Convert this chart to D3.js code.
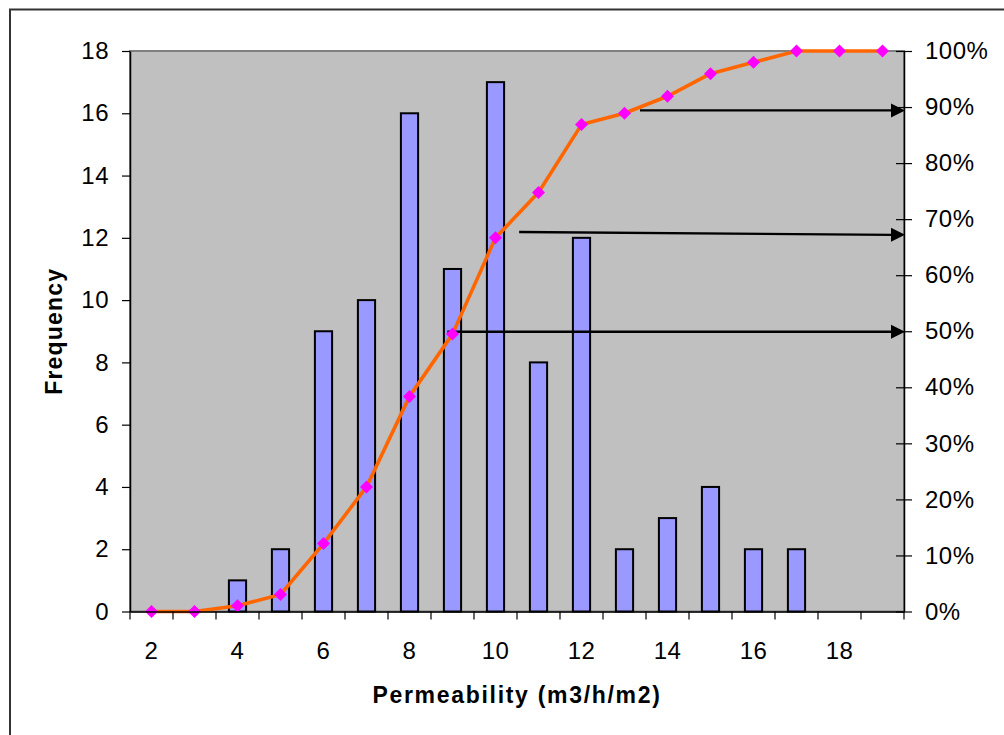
<!DOCTYPE html>
<html>
<head>
<meta charset="utf-8">
<script src="https://cdn.jsdelivr.net/npm/d3@7/dist/d3.min.js"></script>
<style>
  html, body { margin: 0; padding: 0; background: #fff; }
  svg { display: block; font-family: "Liberation Sans", Arial, sans-serif; }
</style>
</head>
<body>
<svg id="chart" width="1004" height="735"></svg>
<script>
// Permeability classes (m3/h/m2)
const categories = [2, 3, 4, 5, 6, 7, 8, 9, 10, 11, 12, 13, 14, 15, 16, 17, 18, 19];
// Number of samples in each class
const frequency = [0, 0, 1, 2, 9, 10, 16, 11, 17, 8, 12, 2, 3, 4, 2, 2, 0, 0];
// Cumulative share of samples
const cumulative = [0, 0, 0.0101, 0.0303, 0.1212, 0.2222, 0.3838, 0.4949, 0.6667, 0.7475,
                    0.8687, 0.8889, 0.9192, 0.9596, 0.9798, 1, 1, 1];
// Axis tick values
const freqTicks = [0, 2, 4, 6, 8, 10, 12, 14, 16, 18];
const pctTicks = [0, 0.1, 0.2, 0.3, 0.4, 0.5, 0.6, 0.7, 0.8, 0.9, 1];
const xLabelTicks = [2, 4, 6, 8, 10, 12, 14, 16, 18];
// Reading arrows: start class position, start share, end share
const arrowStartX = [8.88, 10.55, 13.36];
const arrowStartPct = [0.499, 0.677, 0.894];
const arrowEndPct = [0.499, 0.672, 0.894];

const svg = d3.select("#chart");
const plot = { left: 130, right: 904, top: 51, bottom: 611.5 };

const x = d3.scaleBand().domain(categories).range([plot.left, plot.right]);
const bw = x.bandwidth();
const xPos = d3.scaleLinear()
  .domain([categories[0], categories[categories.length - 1]])
  .range([x(categories[0]) + bw / 2, x(categories[categories.length - 1]) + bw / 2]);
const yL = d3.scaleLinear().domain([0, 18]).range([plot.bottom, plot.top]);
const yR = d3.scaleLinear().domain([0, 1]).range([plot.bottom, plot.top]);

// Outer chart frame
svg.append("rect")
  .attr("x", 10).attr("y", 9.5)
  .attr("width", 1100).attr("height", 900)
  .attr("fill", "none").attr("stroke", "#333").attr("stroke-width", 2);

// Plot area
svg.append("rect")
  .attr("x", plot.left).attr("y", plot.top)
  .attr("width", plot.right - plot.left).attr("height", plot.bottom - plot.top)
  .attr("fill", "#c0c0c0").attr("stroke", "#808080").attr("stroke-width", 2);

// Frequency bars
const barW = bw / 2.5;
svg.append("g").selectAll("rect")
  .data(categories.map((c, i) => ({ c, v: frequency[i] })).filter(d => d.v > 0))
  .join("rect")
  .attr("x", d => x(d.c) + (bw - barW) / 2)
  .attr("y", d => yL(d.v))
  .attr("width", barW)
  .attr("height", d => yL(0) - yL(d.v))
  .attr("fill", "#9999ff")
  .attr("stroke", "#000")
  .attr("stroke-width", 2);

// Cumulative line
const pts = categories.map((c, i) => ({ c, v: cumulative[i] }));
svg.append("path")
  .datum(pts)
  .attr("fill", "none")
  .attr("stroke", "#ff6600")
  .attr("stroke-width", 3.6)
  .attr("stroke-linejoin", "round")
  .attr("d", d3.line().x(d => x(d.c) + bw / 2).y(d => yR(d.v)));

// Reading arrows
const arrows = arrowStartX.map((sx, i) => ({ sx, sp: arrowStartPct[i], ep: arrowEndPct[i] }));
const ag = svg.append("g");
const headLen = 14, headHalf = 7;
arrows.forEach(a => {
  const x1 = xPos(a.sx), y1 = yR(a.sp);
  const x2 = plot.right + 1, y2 = yR(a.ep);
  ag.append("line")
    .attr("x1", x1).attr("y1", y1)
    .attr("x2", x2 - headLen + 2).attr("y2", y2)
    .attr("stroke", "#000").attr("stroke-width", 2.4);
  ag.append("path")
    .attr("d", `M${x2},${y2} L${x2 - headLen},${y2 - headHalf} L${x2 - headLen},${y2 + headHalf} Z`)
    .attr("fill", "#000");
});

// Markers
svg.append("g").selectAll("path")
  .data(pts)
  .join("path")
  .attr("transform", d => `translate(${x(d.c) + bw / 2},${yR(d.v)})`)
  .attr("d", "M0,-6.5L6.5,0L0,6.5L-6.5,0Z")
  .attr("fill", "#ff00ff");

const tickFont = "24px";

// Left axis
const gL = svg.append("g")
  .attr("transform", `translate(${plot.left},0)`)
  .call(d3.axisLeft(yL).tickValues(freqTicks).tickSizeInner(8).tickSizeOuter(0).tickPadding(13));
// Right axis
const gR = svg.append("g")
  .attr("transform", `translate(${plot.right},0)`)
  .call(d3.axisRight(yR).tickValues(pctTicks).tickFormat(d3.format(".0%"))
    .tickSizeInner(8).tickSizeOuter(0).tickPadding(13));
gR.selectAll(".tick line").attr("x1", -8);

// Bottom axis: boundary ticks and alternate labels
const gB = svg.append("g")
  .attr("transform", `translate(0,${plot.bottom})`)
  .call(d3.axisBottom(x).tickValues(xLabelTicks).tickSize(0).tickPadding(30));
gB.selectAll(".tick line").remove();
const bounds = categories.map(c => x(c)).concat([plot.right]);
gB.append("g").selectAll("line")
  .data(bounds)
  .join("line")
  .attr("x1", d => d).attr("x2", d => d)
  .attr("y1", 0).attr("y2", 8)
  .attr("stroke", "#000").attr("stroke-width", 1.2);

[gL, gR, gB].forEach(g => {
  g.selectAll(".domain").attr("stroke", "#000").attr("stroke-width", 1.5);
  g.selectAll(".tick line").attr("stroke", "#000").attr("stroke-width", 1.2);
  g.selectAll("text")
    .attr("font-family", "'Liberation Sans', Arial, sans-serif")
    .attr("font-size", tickFont)
    .attr("letter-spacing", "0.5px")
    .attr("fill", "#000");
});

// Axis titles
svg.append("text")
  .attr("x", (plot.left + plot.right) / 2)
  .attr("y", 703)
  .attr("text-anchor", "middle")
  .attr("font-size", "23px")
  .attr("font-weight", "bold")
  .attr("letter-spacing", "1.7px")
  .text("Permeability (m3/h/m2)");

svg.append("text")
  .attr("transform", `translate(62,${(plot.top + plot.bottom) / 2}) rotate(-90)`)
  .attr("text-anchor", "middle")
  .attr("font-size", "23px")
  .attr("font-weight", "bold")
  .attr("letter-spacing", "1.2px")
  .text("Frequency");
</script>
</body>
</html>
